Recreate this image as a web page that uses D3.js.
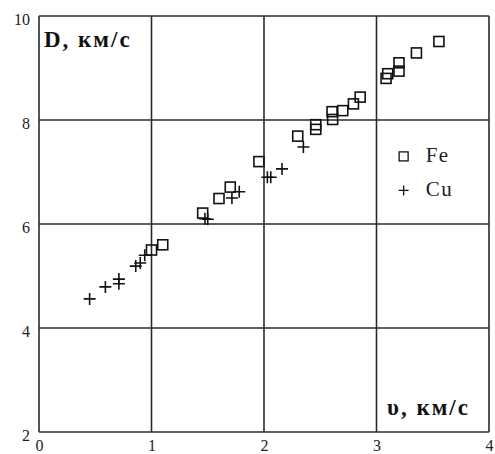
<!DOCTYPE html>
<html>
<head>
<meta charset="utf-8">
<script src="https://cdn.jsdelivr.net/npm/d3@7"></script>
<style>
  body { margin: 0; background: #fff; }
  svg { display: block; }
  text { font-family: "Liberation Serif", "DejaVu Serif", serif; }
</style>
</head>
<body>
<div id="chart"></div>
<script>
// data: velocity v (km/s) vs D (km/s)
const feV = [1.00, 1.10, 1.455, 1.60, 1.70, 1.955, 2.30, 2.46, 2.46, 2.605, 2.61, 2.70, 2.795, 2.855, 3.085, 3.10, 3.20, 3.20, 3.355, 3.555];
const feD = [5.50, 5.60, 6.21, 6.49, 6.71, 7.20, 7.69, 7.91, 7.82, 8.16, 8.01, 8.18, 8.31, 8.44, 8.80, 8.89, 8.94, 9.10, 9.29, 9.51];
const cuV = [0.45, 0.59, 0.71, 0.71, 0.86, 0.90, 0.94, 1.475, 1.50, 1.715, 1.78, 2.03, 2.06, 2.16, 2.35];
const cuD = [4.56, 4.79, 4.94, 4.85, 5.19, 5.25, 5.40, 6.10, 6.09, 6.50, 6.62, 6.90, 6.90, 7.06, 7.48];
const xTicks = [0, 1, 2, 3, 4];
const yTicks = [2, 4, 6, 8, 10];
const legendItems = ["Fe", "Cu"];

const margin = {top: 16, right: 6, bottom: 22, left: 39};
const size = {width: 495, height: 454};
const width = size.width - margin.left - margin.right;
const height = size.height - margin.top - margin.bottom;
const ink = "#2a2a2a";

const svg = d3.select("#chart").append("svg")
    .attr("width", size.width)
    .attr("height", size.height)
    .append("g")
    .attr("transform", "translate(" + margin.left + "," + margin.top + ")");

const xScale = d3.scaleLinear().domain([0, 4]).range([0, width]);
const yScale = d3.scaleLinear().domain([2, 10]).range([height, 0]);

// grid lines
svg.append("g").selectAll("line")
    .data(xTicks)
    .join("line")
    .attr("x1", d => xScale(d)).attr("x2", d => xScale(d))
    .attr("y1", 0).attr("y2", height)
    .attr("stroke", ink).attr("stroke-width", 1.6);
svg.append("g").selectAll("line")
    .data(yTicks)
    .join("line")
    .attr("x1", 0).attr("x2", width)
    .attr("y1", d => yScale(d)).attr("y2", d => yScale(d))
    .attr("stroke", ink).attr("stroke-width", 1.6);

// axes (labels only)
const xAxis = svg.append("g")
    .attr("transform", "translate(0," + height + ")")
    .call(d3.axisBottom(xScale).tickValues(xTicks).tickSize(0).tickPadding(9).tickFormat(d3.format("d")));
const yAxis = svg.append("g")
    .call(d3.axisLeft(yScale).tickValues(yTicks).tickSize(0).tickPadding(9).tickFormat(d3.format("d")));
[xAxis, yAxis].forEach(g => {
    g.select(".domain").remove();
    g.selectAll("text")
        .attr("font-family", null)
        .attr("font-size", 16)
        .attr("fill", "#222");
});
yAxis.selectAll("text").attr("dy", "0.5em");
xAxis.selectAll("text").attr("dy", "0.6em");

// axis titles
svg.append("text")
    .attr("x", 5).attr("y", 31)
    .attr("font-weight", "bold")
    .attr("font-size", 23)
    .attr("letter-spacing", 2)
    .attr("fill", "#111")
    .text("D, км/с");
svg.append("text")
    .attr("x", 348).attr("y", 399)
    .attr("font-weight", "bold")
    .attr("font-size", 23)
    .attr("letter-spacing", 2)
    .attr("fill", "#111")
    .text("υ, км/с");

// markers
const fe = feV.map((v, i) => ({v: v, D: feD[i]}));
const cu = cuV.map((v, i) => ({v: v, D: cuD[i]}));
const sq = 10;
svg.append("g").selectAll("rect")
    .data(fe)
    .join("rect")
    .attr("x", d => xScale(d.v) - sq / 2)
    .attr("y", d => yScale(d.D) - sq / 2)
    .attr("width", sq).attr("height", sq)
    .attr("fill", "none")
    .attr("stroke", "#111").attr("stroke-width", 1.6);
svg.append("g").selectAll("path")
    .data(cu)
    .join("path")
    .attr("transform", d => "translate(" + xScale(d.v) + "," + yScale(d.D) + ")")
    .attr("d", "M-6,0H6M0,-6V6")
    .attr("fill", "none")
    .attr("stroke", "#111").attr("stroke-width", 1.6);

// legend
const legend = svg.append("g")
    .attr("transform", "translate(" + (xScale(3.25) - 1) + "," + (yScale(7.3)) + ")");
const legendG = legend.selectAll("g")
    .data(legendItems)
    .join("g")
    .attr("transform", (d, i) => "translate(0," + (i * 34) + ")");
legendG.filter(d => d === "Fe").append("rect")
    .attr("x", -4.5).attr("y", -4.5).attr("width", 9).attr("height", 9)
    .attr("fill", "none").attr("stroke", "#111").attr("stroke-width", 1.3);
legendG.filter(d => d === "Cu").append("path")
    .attr("d", "M-5,0H5M0,-5V5")
    .attr("fill", "none").attr("stroke", "#111").attr("stroke-width", 1.3);
legendG.append("text")
    .attr("x", 22).attr("y", 6)
    .attr("font-size", 21)
    .attr("letter-spacing", 1.5)
    .attr("fill", "#222")
    .text(d => d);
</script>
</body>
</html>
